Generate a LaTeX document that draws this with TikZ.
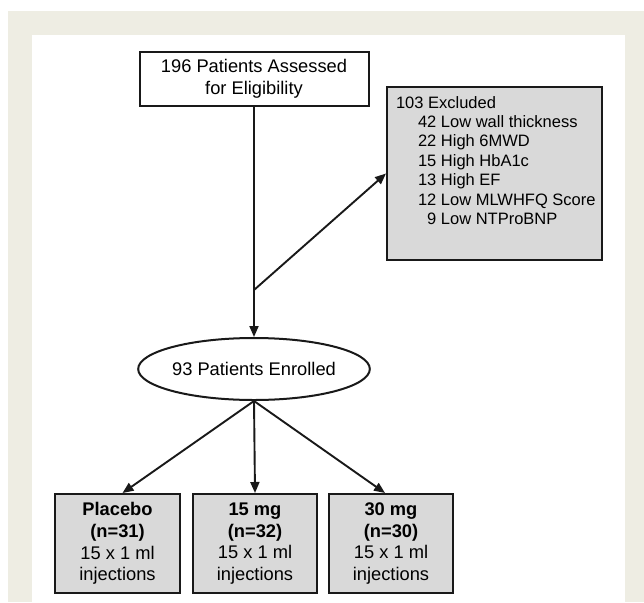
\documentclass[tikz,border=0pt]{standalone}
\usepackage{fontspec}
\setmainfont{Liberation Sans}
\usetikzlibrary{shapes.geometric,arrows.meta}
\definecolor{beige}{RGB}{238,237,227}
\definecolor{boxgray}{RGB}{217,217,217}
\definecolor{ink}{RGB}{25,25,25}
\begin{document}
\begin{tikzpicture}[x=1pt,y=-1pt,
  box/.style={draw=ink,line width=2pt,inner sep=0pt,align=center},
  graybox/.style={box,fill=boxgray},
  conn/.style={draw=ink,line width=1.9pt,-{Triangle[length=11pt,width=9pt]}},
  mainfont/.style={font=\fontsize{18.3}{22}\selectfont}]
\useasboundingbox (0,0) rectangle (644,602);
\fill[white] (0,0) rectangle (644,602);
\fill[beige] (8,11) rectangle (644,602);
\fill[white] (32,35) rectangle (625,602);

\node[box,mainfont,minimum width=229pt,minimum height=54pt] (top) at (254,79)
  {196 Patients Assessed\\for Eligibility};

\node[graybox,anchor=north west] (excl) at (386,86)
  {\parbox[t][173pt][t]{215pt}{\fontsize{16.5}{19.4}\selectfont
   \hspace*{9pt}\rule{0pt}{21pt}103 Excluded\\
   \hspace*{31pt}42 Low wall thickness\\
   \hspace*{31pt}22 High 6MWD\\
   \hspace*{31pt}15 High HbA1c\\
   \hspace*{31pt}13 High EF\\
   \hspace*{31pt}12 Low MLWHFQ Score\\
   \hspace*{31pt}\phantom{0}9 Low NTProBNP}};

\node[box,ellipse,mainfont,minimum width=197pt,minimum height=62pt] (enr) at (254,369)
  {93 Patients Enrolled};

\node[graybox,minimum width=125pt,minimum height=99pt,
  font=\fontsize{18.3}{21.7}\selectfont] (p1) at (117.5,543.5)
  {\textbf{Placebo}\\\textbf{(n=31)}\\15 x 1 ml\\injections};
\node[graybox,minimum width=124pt,minimum height=99pt,
  font=\fontsize{18.3}{21.7}\selectfont] (p2) at (255,543.5)
  {\textbf{15 mg}\\\textbf{(n=32)}\\15 x 1 ml\\injections};
\node[graybox,minimum width=124pt,minimum height=99pt,
  font=\fontsize{18.3}{21.7}\selectfont] (p3) at (391,543.5)
  {\textbf{30 mg}\\\textbf{(n=30)}\\15 x 1 ml\\injections};

\coordinate (branch) at (254,290);
\draw[conn] (top.south) -- (enr.north);
\draw[conn] (branch) -- (excl.west);
\draw[conn] (enr.south) -- ([xshift=5pt]p1.north);
\draw[conn] (enr.south) -- (p2.north);
\draw[conn] (enr.south) -- ([xshift=-6pt]p3.north);
\end{tikzpicture}
\end{document}
